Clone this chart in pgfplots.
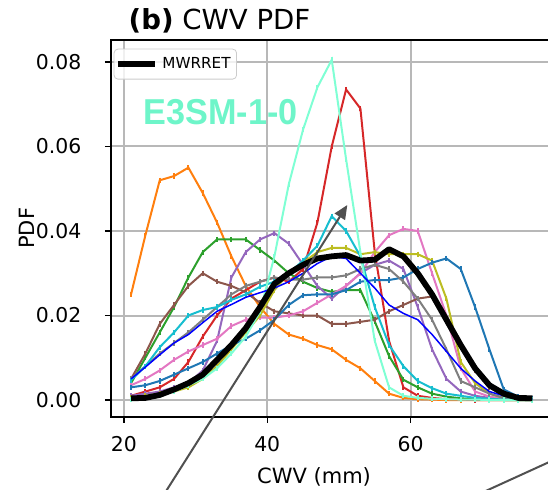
\documentclass[border=0pt]{standalone}
\usepackage{fontspec}
\setmainfont{DejaVu Sans}
\newfontfamily\lsans{Liberation Sans}
\usepackage{graphicx}
\usepackage{pgfplots}
\pgfplotsset{compat=1.18}
\usepackage{pgfplotstable}
\usetikzlibrary{arrows.meta}
\definecolor{tabblue}{HTML}{1F77B4}
\definecolor{taborange}{HTML}{FF7F0E}
\definecolor{tabgreen}{HTML}{2CA02C}
\definecolor{tabred}{HTML}{D62728}
\definecolor{tabpurple}{HTML}{9467BD}
\definecolor{tabbrown}{HTML}{8C564B}
\definecolor{tabpink}{HTML}{E377C2}
\definecolor{tabgray}{HTML}{7F7F7F}
\definecolor{tabolive}{HTML}{BCBD22}
\definecolor{tabcyan}{HTML}{17BECF}
\definecolor{aquam}{HTML}{7FFFD4}
\definecolor{aqtext}{HTML}{6EF5C9}
\definecolor{gridgray}{HTML}{B8B8B8}
\definecolor{arrowgray}{HTML}{505050}

\pgfplotstableread{
x  or     rd     aq     gr     pu     br     pk     ol     tb     gy     cy     bl     bk
21 0.025  0.001  0.0002 0.004  0.001  0.005  0.0035 0.0005 0.003  0.005  0.0047 0.005  0.0004
23 0.039  0.002  0.0005 0.010  0.0015 0.011  0.005  0.001  0.0035 0.008  0.008  0.0078 0.0005
25 0.052  0.003  0.001  0.016  0.002  0.018  0.007  0.0015 0.0045 0.011  0.0125 0.0107 0.0012
27 0.053  0.005  0.002  0.022  0.003  0.0225 0.0095 0.002  0.006  0.0135 0.016  0.0135 0.0025
29 0.055  0.009  0.0035 0.029  0.004  0.027  0.0115 0.003  0.0075 0.016  0.020  0.0155 0.004
31 0.049  0.015  0.005  0.035  0.007  0.030  0.013  0.005  0.009  0.019  0.0213 0.0183 0.006
33 0.042  0.020  0.0075 0.038  0.014  0.028  0.0145 0.008  0.011  0.022  0.022  0.021  0.0095
35 0.034  0.024  0.011  0.038  0.029  0.027  0.0175 0.012  0.013  0.025  0.0237 0.0226 0.013
37 0.027  0.026  0.015  0.038  0.035  0.0255 0.019  0.016  0.0145 0.027  0.025  0.0243 0.017
39 0.022  0.028  0.021  0.0355 0.038  0.023  0.0195 0.020  0.0165 0.028  0.0268 0.0254 0.022
41 0.018  0.029  0.034  0.033  0.0395 0.021  0.0195 0.026  0.019  0.029  0.028  0.0265 0.0275
43 0.0155 0.028  0.051  0.030  0.037  0.0205 0.020  0.030  0.0225 0.0285 0.030  0.028  0.030
45 0.0145 0.031  0.064  0.028  0.032  0.020  0.021  0.0325 0.0248 0.0285 0.033  0.030  0.032
47 0.013  0.042  0.074  0.0265 0.027  0.020  0.023  0.035  0.025  0.029  0.0365 0.0323 0.0335
49 0.012  0.060  0.0805 0.0256 0.024  0.018  0.025  0.036  0.025  0.029  0.0435 0.034  0.034
51 0.0095 0.0735 0.057  0.026  0.027  0.018  0.027  0.036  0.026  0.0295 0.040  0.0335 0.0343
53 0.0075 0.069  0.035  0.026  0.030  0.0185 0.030  0.0345 0.028  0.031  0.034  0.030  0.033
55 0.0045 0.035  0.014  0.0186 0.032  0.019  0.035  0.035  0.0284 0.032  0.022  0.0265 0.0332
57 0.0015 0.014  0.003  0.0104 0.033  0.021  0.039  0.0345 0.0284 0.031  0.013  0.0225 0.0357
59 0.0005 0.003  0.001  0.0048 0.031  0.0225 0.0405 0.0345 0.029  0.028  0.008  0.0205 0.034
61 0.0002 0.001  0.0005 0.003  0.022  0.024  0.040  0.0345 0.031  0.024  0.0045 0.019  0.030
63 0.0001 0.0005 0.0003 0.0015 0.012  0.0245 0.030  0.033  0.0325 0.019  0.0028 0.0155 0.025
65 0      0.0002 0.0002 0.0008 0.005  0.020  0.020  0.024  0.0335 0.012  0.0015 0.0115 0.019
67 0      0.0001 0.0001 0.0004 0.002  0.013  0.0075 0.009  0.031  0.0045 0.001  0.0075 0.013
69 0      0      0.0001 0.0002 0.001  0.007  0.002  0.004  0.022  0.003  0.0005 0.0045 0.0075
71 0      0      0      0.0001 0.0005 0.003  0.0008 0.0015 0.012  0.0015 0.0003 0.002  0.0035
73 0      0      0      0      0.0002 0.001  0.0003 0.0005 0.0025 0.0005 0.0001 0.001  0.0015
75 0      0      0      0      0.0001 0.0003 0.0001 0.0002 0.0008 0.0002 0      0.0005 0.0005
77 0      0      0      0      0      0.0001 0      0.0001 0.0003 0      0      0.0002 0.0004
}\cwv

\begin{document}
\begin{tikzpicture}
\begin{axis}[
  scale only axis, width=220.75pt, height=188.35pt,
  xmin=18.2, xmax=79.8, ymin=-0.00395, ymax=0.0852,
  xtick={20,40,60}, xticklabels={20,40,60},
  ytick={0,0.02,0.04,0.06,0.08}, yticklabels={0.00,0.02,0.04,0.06,0.08},
  scaled y ticks=false, scaled x ticks=false,
  tick align=outside, tick pos=left, major tick length=3pt,
  tick style={black, line width=0.7pt},
  grid=major, major grid style={color=gridgray, line width=1pt},
  axis line style={line width=0.8pt},
  clip mode=individual,
  ticklabel style={font=\fontsize{10.2}{12}\selectfont},
  xticklabel shift=3.5pt, yticklabel shift=8.3pt,
  every axis x label/.style={at={(axis description cs:0.46,0)}, anchor=base, yshift=-33.3pt, font=\fontsize{10.5}{13}\selectfont},
  every axis y label/.style={at={(axis description cs:-0.1905,0.5)}, anchor=center, rotate=90, font=\fontsize{10.5}{13}\selectfont},
  xlabel={CWV (mm)}, ylabel={PDF},
  title={\textbf{(b)} CWV PDF},
  every axis title/.style={at={(axis description cs:0.024,1)}, anchor=base west, yshift=5.35pt, font=\fontsize{13.8}{15}\selectfont},
  legend style={at={(axis description cs:0.006,0.977)}, anchor=north west,
    font=\fontsize{7.6}{9}\selectfont, draw=black!20, rounded corners=2pt,
    fill=white, fill opacity=0.8, text opacity=1, inner xsep=0.6pt, inner ysep=1.5pt,
    nodes={inner xsep=2.4pt, inner ysep=2.5pt}},
  legend cell align=left,
  legend image code/.code={\draw[#1] (0pt,0pt) -- (18.3pt,0pt);},
]
\addplot[taborange, line width=1pt, mark=|, mark size=1.3pt, forget plot] table[x=x,y=or]{\cwv};
\addplot[tabred, line width=1pt, mark=|, mark size=1.3pt, forget plot] table[x=x,y=rd]{\cwv};
\addplot[tabgreen, line width=1pt, mark=|, mark size=1.3pt, forget plot] table[x=x,y=gr]{\cwv};
\addplot[tabpurple, line width=1pt, mark=|, mark size=1.3pt, forget plot] table[x=x,y=pu]{\cwv};
\addplot[tabbrown, line width=1pt, mark=|, mark size=1.3pt, forget plot] table[x=x,y=br]{\cwv};
\addplot[tabpink, line width=1pt, mark=|, mark size=1.3pt, forget plot] table[x=x,y=pk]{\cwv};
\addplot[tabolive, line width=1pt, mark=|, mark size=1.3pt, forget plot] table[x=x,y=ol]{\cwv};
\addplot[tabblue, line width=1pt, mark=|, mark size=1.3pt, forget plot] table[x=x,y=tb]{\cwv};
\addplot[tabgray, line width=1pt, mark=|, mark size=1.3pt, forget plot] table[x=x,y=gy]{\cwv};
\addplot[tabcyan, line width=1pt, mark=|, mark size=1.3pt, forget plot] table[x=x,y=cy]{\cwv};
\addplot[aquam, line width=1pt, mark=|, mark size=1.3pt, forget plot] table[x=x,y=aq]{\cwv};
\addplot[blue, line width=0.75pt, forget plot] table[x=x,y=bl]{\cwv};
\addplot[black, line width=2.9pt, line join=round] table[x=x,y=bk]{\cwv};
\addlegendentry{MWRRET}
\node[text=aqtext, anchor=center, inner sep=0pt] at (axis description cs:0.248,0.8075)
  {\scalebox{0.95}[1]{\lsans\bfseries\fontsize{18}{18}\selectfont E3SM-1-0}};
\draw[arrowgray, line width=1pt, -{Triangle[length=7pt,width=6pt]}]
  (axis cs:24.6,-0.025) -- (axis cs:51.17,0.04615);
\draw[arrowgray, line width=1pt] (axis cs:66.0,-0.025) -- (axis cs:90,-0.00643);
\end{axis}
\pgfresetboundingbox
\useasboundingbox (-55.5pt,-36.15pt) rectangle (218.5pt,208.35pt);
\end{tikzpicture}
\end{document}
